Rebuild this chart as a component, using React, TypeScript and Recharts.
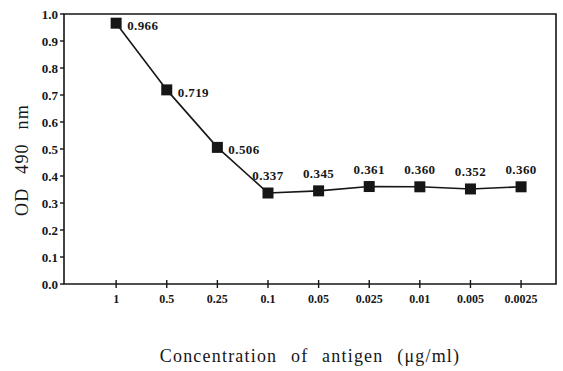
import {
  LineChart,
  Line,
  XAxis,
  YAxis,
  LabelList,
  ReferenceArea,
} from "recharts";

const concentrations = ["1", "0.5", "0.25", "0.1", "0.05", "0.025", "0.01", "0.005", "0.0025"];
const odValues = [0.966, 0.719, 0.506, 0.337, 0.345, 0.361, 0.36, 0.352, 0.36];
const yTicks = [0, 0.1, 0.2, 0.3, 0.4, 0.5, 0.6, 0.7, 0.8, 0.9, 1.0];
const xTicks = concentrations.map((_, i) => i);

const data = concentrations.map((c, i) => ({ idx: i, conc: c, od: odValues[i] }));

const SERIF = "'Liberation Serif', 'DejaVu Serif', serif";
const INK = "#161616";

function SquareDot(props: any) {
  const { cx, cy } = props;
  if (cx == null || cy == null) return null;
  return <rect x={cx - 5.5} y={cy - 5.5} width={11} height={11} fill={INK} />;
}

// tick marks drawn as paths, they cross the axis
function XTick(props: any) {
  const { x, y, payload } = props;
  return (
    <g>
      <path d={`M${x},${y - 4}L${x},${y + 4}`} stroke={INK} strokeWidth={1.4} fill="none" />
      <text
        x={x}
        y={y + 19}
        textAnchor="middle"
        fontFamily={SERIF}
        fontWeight="bold"
        fontSize={12}
        fill={INK}
      >
        {concentrations[payload.value]}
      </text>
    </g>
  );
}

function YTick(props: any) {
  const { x, y, payload } = props;
  return (
    <g>
      <path d={`M${x - 4},${y}L${x},${y}`} stroke={INK} strokeWidth={1.4} fill="none" />
      <text
        x={x - 6}
        y={y + 4.5}
        textAnchor="end"
        fontFamily={SERIF}
        fontWeight="bold"
        fontSize={13}
        fill={INK}
      >
        {Number(payload.value).toFixed(1)}
      </text>
    </g>
  );
}

function YTitle() {
  return (
    <text
      x={22}
      y={160}
      transform="rotate(-90 22 160)"
      textAnchor="middle"
      dominantBaseline="central"
      fontFamily={SERIF}
      fontSize={18}
      fill={INK}
      style={{ letterSpacing: "1.2px", wordSpacing: "8px" }}
    >
      OD 490 nm
    </text>
  );
}

const xTitle = "Concentration of antigen (μg/ml)";

function XTitle() {
  return (
    <text
      x={310}
      y={362}
      textAnchor="middle"
      fontFamily={SERIF}
      fontSize={18}
      fill={INK}
      style={{ letterSpacing: "1.2px", wordSpacing: "8px" }}
    >
      {xTitle}
    </text>
  );
}

function PointLabel(props: any) {
  const { x, y, value, index } = props;
  const text = Number(value).toFixed(3);
  const common = {
    fontFamily: SERIF,
    fontWeight: "bold" as const,
    fontSize: 13,
    fill: INK,
    style: { letterSpacing: "0.4px" },
  };
  if (index < 3) {
    return (
      <text x={x + 11} y={y + 7} {...common}>
        {text}
      </text>
    );
  }
  return (
    <text x={x} y={y - 13} textAnchor="middle" {...common}>
      {text}
    </text>
  );
}

export default function App() {
  return (
    <div style={{ position: "absolute", left: 0, top: 0, background: "#fff" }}>
      <LineChart
        width={563}
        height={371}
        data={data}
        margin={{ top: 14, right: 7, bottom: 0, left: 0 }}
      >
        <XAxis
          dataKey="idx"
          type="number"
          domain={[-1.03, 8.69]}
          ticks={xTicks}
          allowDataOverflow
          height={87}
          tickSize={0}
          tickMargin={0}
          tickLine={false}
          axisLine={false}
          tick={<XTick />}
          interval={0}
          label={<XTitle />}
        />
        <YAxis
          domain={[0, 1]}
          ticks={yTicks}
          width={64}
          tickSize={0}
          tickMargin={0}
          tickLine={false}
          axisLine={false}
          tick={<YTick />}
          interval={0}
          label={<YTitle />}
        />
        <ReferenceArea
          y1={0}
          y2={1}
          fill="none"
          fillOpacity={0}
          stroke={INK}
          strokeWidth={1.6}
          ifOverflow="visible"
        />
        <Line
          dataKey="od"
          stroke={INK}
          strokeWidth={1.6}
          dot={<SquareDot />}
          activeDot={false}
          isAnimationActive={false}
        >
          <LabelList dataKey="od" content={<PointLabel />} />
        </Line>
      </LineChart>
    </div>
  );
}
